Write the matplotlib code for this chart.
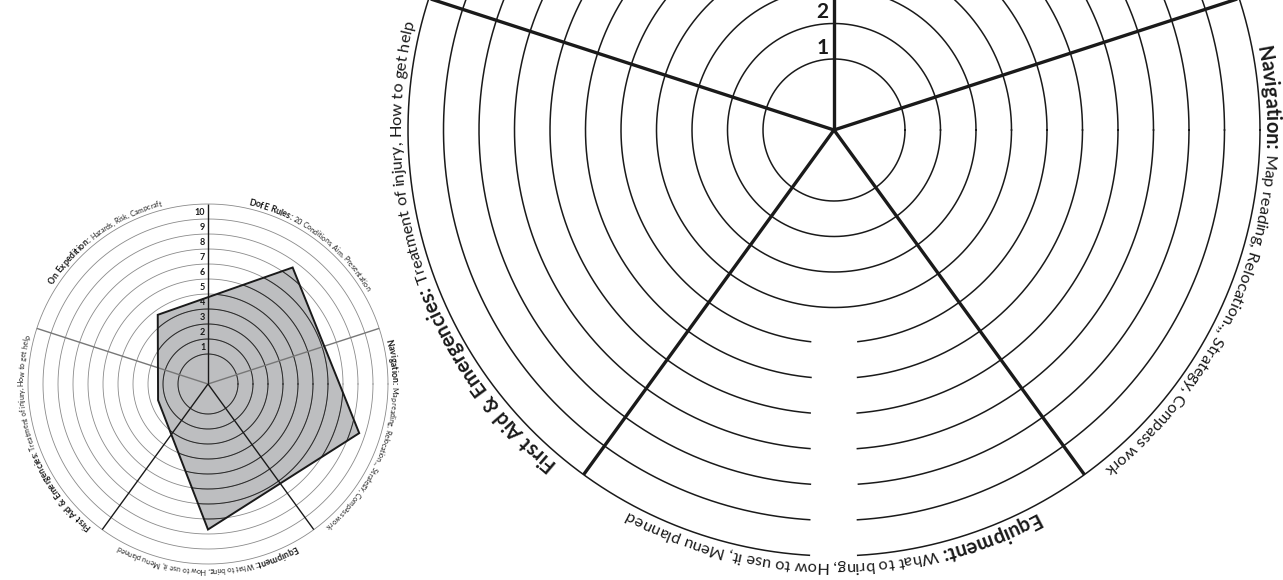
import numpy as np
import matplotlib
matplotlib.use("Agg")
import matplotlib.pyplot as plt
from matplotlib.patches import Polygon
from matplotlib.font_manager import FontProperties, findfont, get_font

# ---- data ----
categories = ["DofE Rules", "On Expedition", "First Aid & Emergencies", "Equipment", "Navigation"]
details = ["20 Conditions, Aim, Presentation",
           "Hazards, Risk, Campcraft",
           "Treatment of injury, How to get help",
           "What to bring, How to use it, Menu planned",
           "Map reading, Relocation.,, Strategy, Compass work"]
scores = [7.6, 3.7, 1.5, 7.7, 8.6]          # filled example (small wheel)
levels = list(range(0, 11))                  # rings
level_labels = [str(i) for i in range(1, 11)]

W, H = 1283, 580
FONT = "Lato"
INK = "#1a1a1a"

sector_deg = 54 + 72 * np.arange(5)          # centre of each category
spoke_deg = 18 + 72 * np.arange(5)
big_label_shift = [0, 0, 0, 0, -2]           # the big sheet's labels sit a bit off-centre


def glyphs(s, weight, size):
    # advance width and left bearing of each char, px at 100 dpi
    fp = FontProperties(family=FONT, weight=weight, size=size)
    font = get_font(findfont(fp))
    font.set_size(size, 100)
    out = []
    for c in s:
        g = font.load_char(ord(c))
        out.append((g.linearHoriAdvance / 65536, g.horiBearingX / 64))
    return out


def on_canvas(ax, th, r, pad=14):
    x, y = ax.transData.transform((th, r))
    return -pad < x < W + pad and -pad < y < H + pad


def arc_text(ax, theta_c, r, parts, unit):
    # parts: list of (text, weight, size in pt); runs clockwise, tops outward
    chars = []
    for txt, wt, sz in parts:
        for c, (adv, bx) in zip(txt, glyphs(txt, wt, sz)):
            chars.append((c, wt, sz, adv, bx))
    total = sum(c[3] for c in chars)
    R = (r + 2) * unit
    t0 = np.radians(theta_c) + total / 2 / R
    pos = 0.0
    for c, wt, sz, adv, bx in chars:
        th = t0 - pos / R                    # pen origin of this glyph
        rot = np.degrees(t0 - (pos + adv / 2) / R) - 90
        pos += adv
        if c == " " or not on_canvas(ax, th, r):
            continue
        # Agg shifts the ink by the bearing along screen x; turn it with the glyph
        a = np.radians(rot)
        off = (bx * (np.cos(a) - 1) * 0.72, bx * np.sin(a) * 0.72)
        ax.annotate(c, xy=(th, r), xytext=off, textcoords="offset points",
                    rotation=rot, rotation_mode="anchor", ha="left", va="baseline",
                    fontsize=sz, fontweight=wt, family=FONT, color=INK)


def level_text(ax, offset, fs, gap):
    for i, lab in enumerate(level_labels):
        xy = (np.pi / 2, i + 1 - offset)
        if not on_canvas(ax, *xy, pad=8):
            continue
        ax.annotate(lab, xy=xy, xytext=(-gap, 0), textcoords="offset points",
                    ha="right", va="center", fontsize=fs, fontweight="bold",
                    family=FONT, color=INK, zorder=5)


def add_wheel(cx, cy, unit):
    R = 12.8 * unit
    ax = fig.add_axes([(cx - R) / W, (H - cy - R) / H, 2 * R / W, 2 * R / H],
                      projection="polar")
    ax.set_ylim(-2, 10.8)
    ax.axis("off")
    return ax


fig = plt.figure(figsize=(W / 100, H / 100), dpi=100)
theta = np.linspace(0, 2 * np.pi, 1440)

# ---------------- big blank wheel ----------------
big_unit = 35.5
axb = add_wheel(834, 130, big_unit)
for lv in levels:
    r = np.full_like(theta, lv, dtype=float)
    if lv >= 4:
        gap = (np.sin(theta) < 0) & ((lv + 2) * np.abs(np.cos(theta)) < 23 / big_unit)
        r = np.where(gap, np.nan, r)
    axb.plot(theta, r, color=INK, lw=1.1)
for d in spoke_deg:
    axb.plot([np.radians(d)] * 2, [-2, 10], color=INK, lw=2.4, solid_capstyle="butt")
level_text(axb, 0.69, 15, 4)
for d, s, cat, det in zip(sector_deg, big_label_shift, categories, details):
    arc_text(axb, d + s, 10.18, [(cat + ": ", "bold", 14.6), (det, "normal", 11.8)], big_unit)

# ---------------- small filled wheel ----------------
sm_unit = 15
axs = add_wheel(208, 384, sm_unit)
poly = Polygon(np.column_stack([np.radians(sector_deg), scores]), closed=True,
               facecolor="#bdbec0", edgecolor="none", zorder=1)
axs.add_patch(poly)
for lv in levels:
    axs.plot(theta, np.full_like(theta, lv, dtype=float), color="#8a8a8a", lw=0.6, zorder=2)
    ln, = axs.plot(theta, np.full_like(theta, lv, dtype=float), color="#2a2a2a", lw=0.7, zorder=2)
    ln.set_clip_path(poly)
spoke_col = ["#777777", INK, "#777777", INK, INK]
for d, c in zip(spoke_deg, spoke_col):
    axs.plot([np.radians(d)] * 2, [-2, 10], color=c, lw=1.0, zorder=3, solid_capstyle="butt")
axs.add_patch(Polygon(np.column_stack([np.radians(sector_deg), scores]), closed=True,
                      facecolor="none", edgecolor=INK, lw=1.4, zorder=4))
level_text(axs, 0.55, 6.5, 2)
for d, cat, det in zip(sector_deg, categories, details):
    arc_text(axs, d, 10.25, [(cat + ": ", "bold", 6.3), (det, "normal", 5.1)], sm_unit)

fig.savefig("out.png", dpi=100)
